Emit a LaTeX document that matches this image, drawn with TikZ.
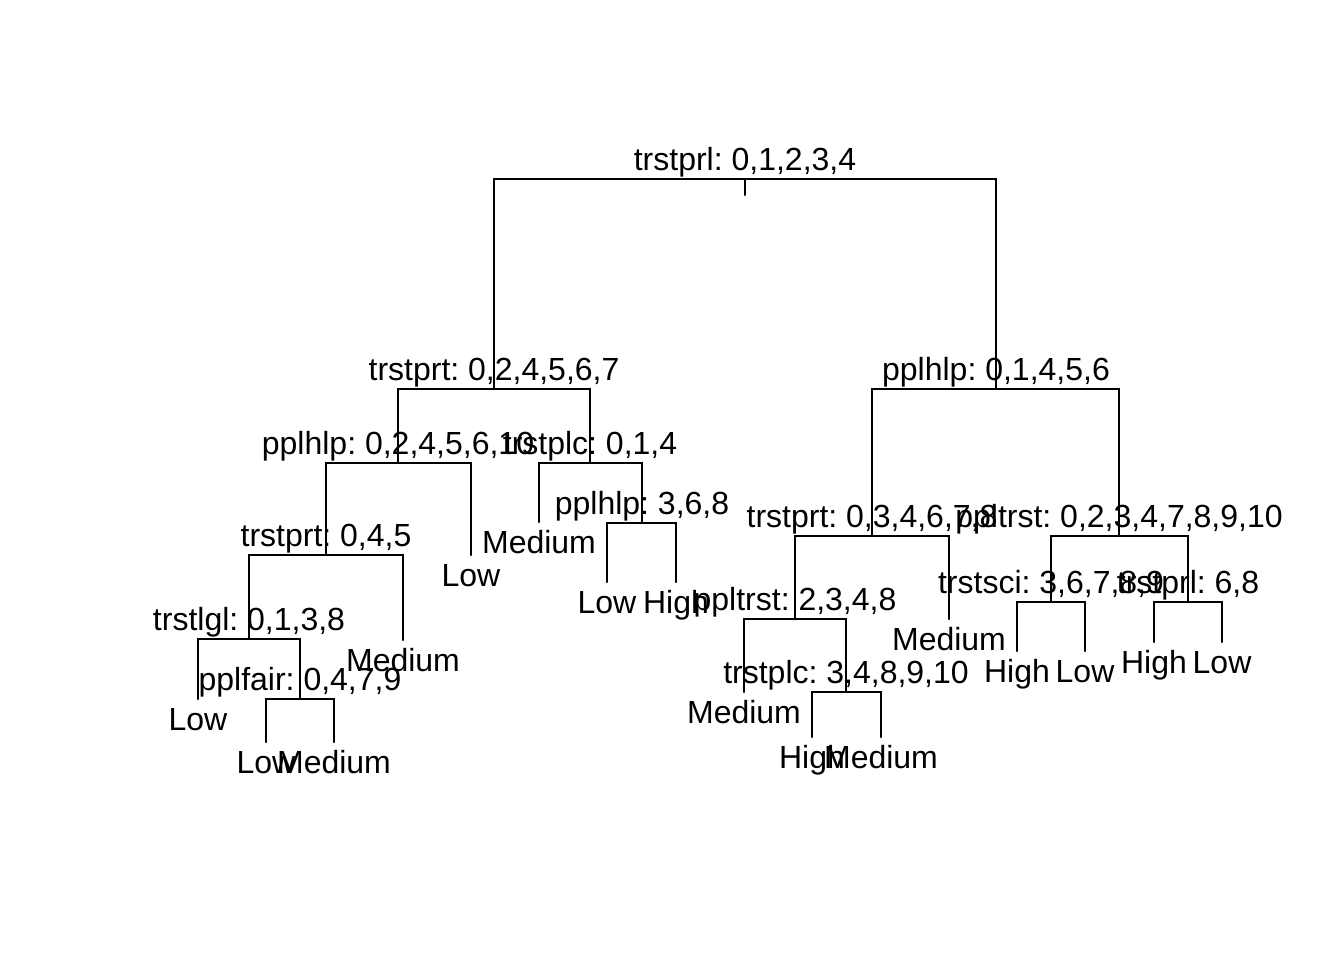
\documentclass[tikz,border=0pt]{standalone}
\usepackage{fontspec}
\setmainfont{Liberation Sans}
\frenchspacing
\begin{document}
\begin{tikzpicture}[x=0.75pt,y=-0.75pt,
  edge/.style={line width=1.5pt, line cap=round},
  lab/.style={anchor=base, inner sep=0pt, font=\fontsize{24}{28}\selectfont\frenchspacing}]
\useasboundingbox[fill=white] (0,0) rectangle (1344,960);
% node points
\coordinate (n1) at (745,179);
\coordinate (n1s) at (745,195);
\coordinate (n2) at (494,389);
\coordinate (n3) at (996,389);
\coordinate (n4) at (398,463);
\coordinate (n5) at (590,463);
\coordinate (n8) at (326,555);
\coordinate (n9) at (471,555);
\coordinate (n10) at (539,522);
\coordinate (n11) at (642,523);
\coordinate (n16) at (249,639);
\coordinate (n17) at (403,640);
\coordinate (n22) at (607,582);
\coordinate (n23) at (676,582);
\coordinate (n32) at (198,699);
\coordinate (n33) at (300,699);
\coordinate (n66) at (266,742);
\coordinate (n67) at (334,742);
\coordinate (n6) at (872,536);
\coordinate (n7) at (1119,536);
\coordinate (n12) at (795,619);
\coordinate (n13) at (949,619);
\coordinate (n24) at (744,692);
\coordinate (n25) at (846,692);
\coordinate (n50) at (812,737);
\coordinate (n51) at (881,737);
\coordinate (n14) at (1051,602);
\coordinate (n15) at (1188,602);
\coordinate (n28) at (1017,651);
\coordinate (n29) at (1085,651);
\coordinate (n30) at (1154,642);
\coordinate (n31) at (1222,642);
% edges
\draw[edge] (n1) -- (n1s);
\draw[edge] (n2) |- (n1) -| (n3);
\draw[edge] (n4) |- (n2) -| (n5);
\draw[edge] (n6) |- (n3) -| (n7);
\draw[edge] (n8) |- (n4) -| (n9);
\draw[edge] (n10) |- (n5) -| (n11);
\draw[edge] (n16) |- (n8) -| (n17);
\draw[edge] (n22) |- (n11) -| (n23);
\draw[edge] (n32) |- (n16) -| (n33);
\draw[edge] (n66) |- (n33) -| (n67);
\draw[edge] (n12) |- (n6) -| (n13);
\draw[edge] (n14) |- (n7) -| (n15);
\draw[edge] (n24) |- (n12) -| (n25);
\draw[edge] (n50) |- (n25) -| (n51);
\draw[edge] (n28) |- (n14) -| (n29);
\draw[edge] (n30) |- (n15) -| (n31);
% split labels
\node[lab] (t1) at (745,170) {trstprl: 0,1,2,3,4};
\node[lab] (t2) at (494,380) {trstprt: 0,2,4,5,6,7};
\node[lab] (t3) at (996,380) {pplhlp: 0,1,4,5,6};
\node[lab] (t4) at (398,454) {pplhlp: 0,2,4,5,6,10};
\node[lab] (t5) at (590,454) {trstplc: 0,1,4};
\node[lab] (t8) at (326,546) {trstprt: 0,4,5};
\node[lab] (t11) at (642,514) {pplhlp: 3,6,8};
\node[lab] (t16) at (249,630) {trstlgl: 0,1,3,8};
\node[lab] (t33) at (300,690) {pplfair: 0,4,7,9};
\node[lab] (t6) at (872,527) {trstprt: 0,3,4,6,7,8};
\node[lab] (t7) at (1119,527) {ppltrst: 0,2,3,4,7,8,9,10};
\node[lab] (t12) at (795,610) {ppltrst: 2,3,4,8};
\node[lab] (t25) at (846,683) {trstplc: 3,4,8,9,10};
\node[lab] (t14) at (1051,593) {trstsci: 3,6,7,8,9};
\node[lab] (t15) at (1188,593) {trstprl: 6,8};
% leaf labels
\node[lab] (l9) at (471,586) {Low};
\node[lab] (l10) at (539,553) {Medium};
\node[lab] (l17) at (403,671) {Medium};
\node[lab] (l22) at (607,613) {Low};
\node[lab] (l23) at (676,613) {High};
\node[lab] (l32) at (198,730) {Low};
\node[lab] (l66) at (266,773) {Low};
\node[lab] (l67) at (334,773) {Medium};
\node[lab] (l13) at (949,650) {Medium};
\node[lab] (l24) at (744,723) {Medium};
\node[lab] (l50) at (812,768) {High};
\node[lab] (l51) at (881,768) {Medium};
\node[lab] (l28) at (1017,682) {High};
\node[lab] (l29) at (1085,682) {Low};
\node[lab] (l30) at (1154,673) {High};
\node[lab] (l31) at (1222,673) {Low};
\end{tikzpicture}
\end{document}
